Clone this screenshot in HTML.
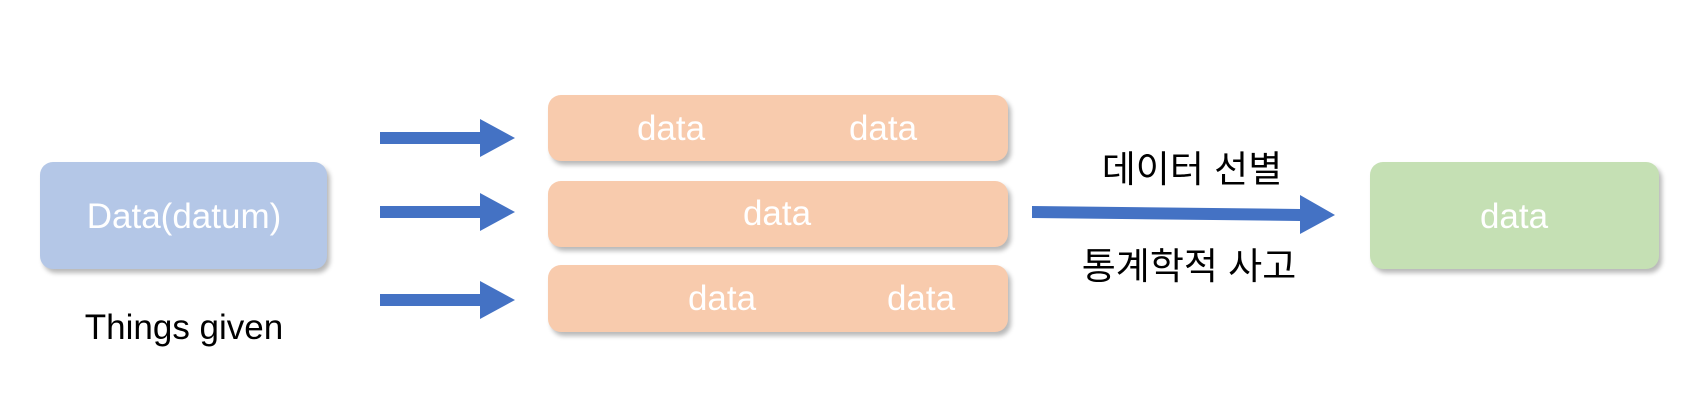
<!DOCTYPE html>
<html><head><meta charset="utf-8"><style>
body{margin:0;width:1699px;height:417px;background:#fff;position:relative;overflow:hidden;font-family:"Liberation Sans","Noto Sans CJK KR",sans-serif}
.b{position:absolute;border-radius:13px;box-shadow:3px 4px 5px rgba(0,0,0,0.28)}
.t{position:absolute;color:#fff;font-size:35px;transform:translate(-50%,-50%);white-space:nowrap}
.k{position:absolute;color:#000;font-size:37px;transform:translate(-50%,-50%);white-space:nowrap}
</style></head><body>
<div class="b" style="left:40px;top:162px;width:287px;height:107px;background:#b4c7e7"></div>
<div class="t" style="left:184px;top:217px">Data(datum)</div>
<div class="k" style="left:184px;top:328px;font-size:35px">Things given</div>
<div class="b" style="left:548px;top:95px;width:460px;height:66px;background:#f8cbad"></div>
<div class="b" style="left:548px;top:181px;width:460px;height:66px;background:#f8cbad"></div>
<div class="b" style="left:548px;top:265px;width:460px;height:67px;background:#f8cbad"></div>
<div class="t" style="left:671px;top:129px">data</div>
<div class="t" style="left:883px;top:129px">data</div>
<div class="t" style="left:777px;top:214px">data</div>
<div class="t" style="left:722px;top:299px">data</div>
<div class="t" style="left:921px;top:299px">data</div>
<div class="b" style="left:1370px;top:162px;width:289px;height:107px;background:#c5e0b4"></div>
<div class="t" style="left:1514px;top:217px">data</div>
<div class="k" style="left:1192px;top:166px">데이터 선별</div>
<div class="k" style="left:1189px;top:263px">통계학적 사고</div>
<svg width="1699" height="417" style="position:absolute;left:0;top:0">
<g fill="#4472c4">
<polygon points="380,132 480,132 480,119 515,138 480,157 480,144 380,144"/>
<polygon points="380,206 480,206 480,193 515,212 480,231 480,218 380,218"/>
<polygon points="380,294 480,294 480,281 515,300 480,319 480,306 380,306"/>
<polygon points="1032,206 1300,209 1300,195 1335,215 1300,234 1300,221 1032,218"/>
</g></svg>
</body></html>
